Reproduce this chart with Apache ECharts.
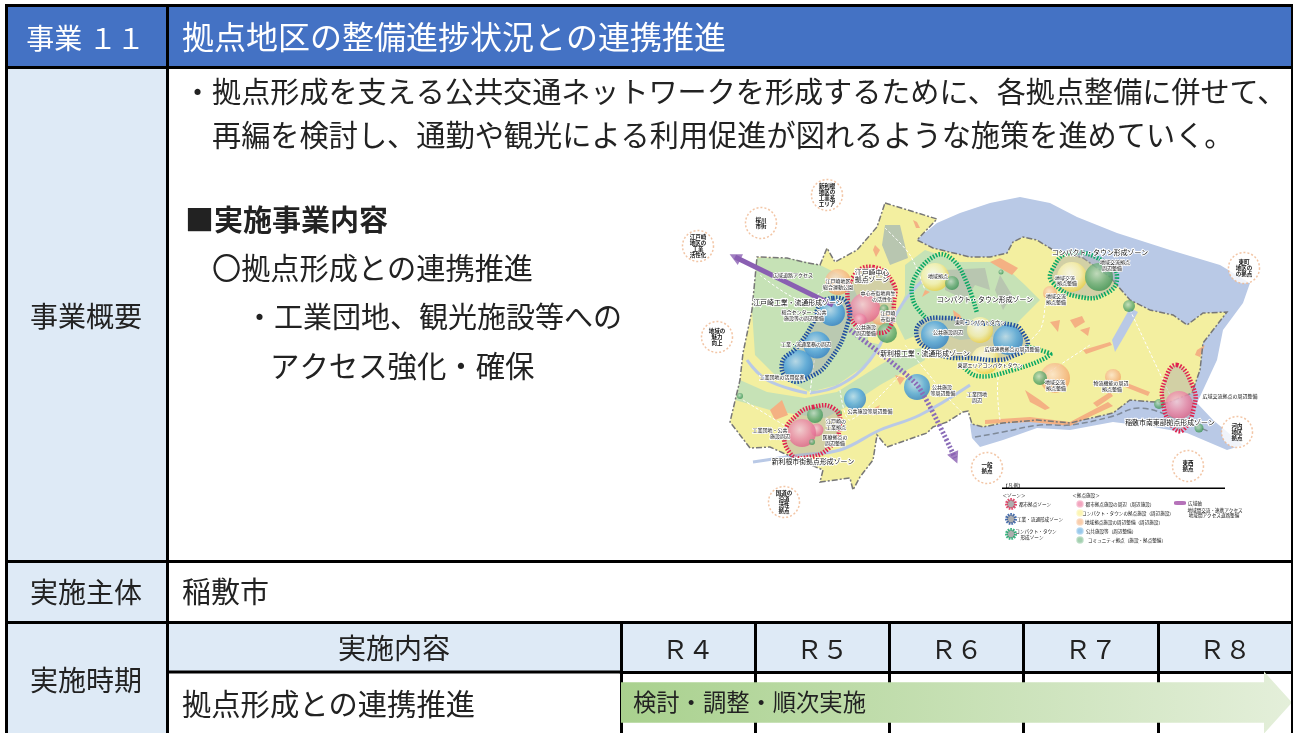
<!DOCTYPE html>
<html lang="ja">
<head>
<meta charset="utf-8">
<title>事業11</title>
<script src="https://cdn.jsdelivr.net/npm/echarts@6/dist/echarts.min.js"></script>
<style>
  html, body { margin: 0; padding: 0; background: #fff; }
  #chart-wrapper { width: 1293px; height: 733px; }
</style>
</head>
<body>
<div id="chart-wrapper"></div>
<script>
// table text
const projectLabel = '事業 １１'
const projectTitle = '拠点地区の整備進捗状況との連携推進'
const overviewLabel = '事業概要'
const ownerLabel = '実施主体'
const ownerName = '稲敷市'
const periodLabel = '実施時期'
const contentLabel = '実施内容'
const overviewLead = [
  '・拠点形成を支える公共交通ネットワークを形成するために、各拠点整備に併せて、',
  '再編を検討し、通勤や観光による利用促進が図れるような施策を進めていく。'
]
const detailHeading = '■実施事業内容'
const detailItem = '〇拠点形成との連携推進'
const detailSub = ['・工業団地、観光施設等への', 'アクセス強化・確保']

// schedule
const years = ['Ｒ４', 'Ｒ５', 'Ｒ６', 'Ｒ７', 'Ｒ８']
const tasks = ['拠点形成との連携推進']
const phaseLabels = ['検討・調整・順次実施']
const phaseStarts = ['Ｒ４']
const phaseEnds = ['Ｒ８']

// map areas
const lake = [[916,240],[937,223],[960,213],[990,203],[1020,197],[1050,203],[1077,217],[1117,233],[1170,250],[1220,265],[1250,283],[1243,303],[1223,330],[1217,360],[1197,403],[1213,420],[1243,445],[1227,450],[1187,433],[1153,427],[1113,422],[1070,430],[1037,428],[1003,440],[980,447],[972,438],[970,424],[1000,400],[1100,340],[1000,280]]
const land = [[885,203],[937,219],[917,240],[933,248],[970,257],[990,257],[1007,253],[1013,242],[1023,237],[1037,240],[1053,250],[1083,258],[1110,277],[1130,300],[1150,310],[1173,315],[1187,325],[1203,313],[1227,312],[1203,343],[1200,370],[1192,393],[1167,403],[1130,400],[1113,413],[1070,423],[1037,420],[1003,423],[983,427],[972,424],[968,411],[963,412],[947,422],[933,427],[927,433],[887,447],[877,435],[873,460],[860,477],[853,490],[850,478],[820,482],[823,470],[783,453],[770,447],[750,448],[730,422],[740,380],[743,353],[752,310],[757,257],[787,258],[803,262],[820,265],[827,248],[835,262],[857,250],[877,227]]
const inlet = [[1130,308],[1138,312],[1125,335],[1115,352],[1112,340]]
const greenWest = [[757,258],[787,258],[820,265],[850,280],[868,320],[868,342],[882,345],[870,362],[837,385],[810,392],[775,375],[755,355],[752,310]]
const greenSouth = [[740,380],[767,392],[805,398],[837,392],[880,365],[905,350],[922,348],[925,360],[880,385],[850,405],[825,418],[800,415],[770,410],[735,400]]
const greenCentre = [[905,265],[925,250],[960,262],[1000,262],[1025,285],[1040,300],[1020,320],[1010,335],[960,340],[930,330],[905,340],[895,320],[905,295]]
const grayNorth = [[885,225],[900,225],[908,258],[890,265],[882,245]]
const grayCentre = [[945,270],[985,268],[990,290],[975,285],[965,300],[945,290]]
const grayEast = [[1000,275],[1012,295],[1003,310],[995,290]]
const orangePatches = [
  [[1070,320],[1082,316],[1085,322],[1075,328]],
  [[1080,330],[1090,327],[1088,336]],
  [[1050,322],[1060,320],[1058,332]],
  [[1083,350],[1110,342],[1112,345],[1086,354]],
  [[985,420],[1030,417],[1070,422],[1108,402],[1113,406],[1070,426],[1030,422],[985,424]],
  [[1025,390],[1040,400],[1050,408],[1045,410],[1030,402]],
  [[1093,403],[1110,392],[1113,396],[1097,407]],
  [[1127,383],[1150,392],[1148,396],[1125,387]],
  [[875,245],[880,250],[876,257],[873,250]],
  [[913,220],[917,222],[920,228],[916,228]],
  [[925,290],[930,292],[922,297]],
  [[770,410],[782,400],[788,415],[775,420]],
  [[865,413],[880,405],[875,415]],
  [[953,310],[960,315],[965,325],[955,322]],
  [[990,262],[1000,258],[1018,268],[1012,275],[1000,268]],
  [[895,375],[905,378],[900,385]],
  [[1197,350],[1205,345],[1200,357],[1195,355]]
]

// zones
const redZones = [
  [[873,267],[893,283],[894,303],[890,327],[878,333],[857,327],[848,303],[853,277]],
  [[1177,365],[1193,387],[1194,407],[1183,430],[1173,427],[1163,403],[1165,380]],
  [[813,407],[833,408],[840,423],[830,447],[803,458],[790,453],[785,433],[797,415]]
]
const navyZones = [
  [[833,298],[847,303],[848,323],[830,360],[810,377],[790,380],[782,363],[797,347],[813,323],[820,305]],
  [[922,322],[947,318],[973,323],[1013,325],[1023,333],[1027,347],[1013,356],[998,360],[970,358],[947,357],[930,350],[917,337]]
]
const greenZones = [
  [[1052,270],[1070,253],[1107,263],[1117,277],[1107,293],[1080,297],[1053,283]]
]
const greenTraces = [
  [[925,317],[913,300],[915,277],[937,255],[953,260],[967,283],[977,313]],
  [[960,363],[977,376],[1013,370],[1050,355],[1040,350],[1027,347]]
]

// rivers, roads, boundary
const rivers = [
  [[753,462],[800,455],[840,450],[880,430],[920,415],[970,385]],
  [[810,393],[840,385],[870,360],[903,303],[923,280]],
  [[747,360],[767,380],[807,393]]
]
const roads = [
  [[885,228],[910,255],[925,290]],
  [[760,275],[800,300],[825,290]],
  [[1045,305],[1040,330],[1000,370],[1000,420]],
  [[1130,310],[1170,395]],
  [[1090,345],[1040,378]],
  [[905,345],[950,400],[970,420]],
  [[810,393],[815,355]],
  [[840,390],[850,420],[900,375]],
  [[743,400],[787,427]]
]
const waterBoundary = [[975,437],[1003,432],[1040,425],[1070,425],[1110,417],[1140,408],[1180,420],[1210,432]]

// arrows
const purpleSolid = [[833,305],[735,257]]
const purpleDashed = [[850,330],[917,385],[955,458]]

// facilities: x, y, diameter
const pinkBubbles = [[865,308,30],[860,320,13],[817,430,13],[802,433,28],[1179,405,28]]
const orangeBubbles = [[838,282,26],[880,315,20],[1050,293,14],[1055,378,30],[1113,377,16]]
const blueBubbles = [[832,313,26],[817,345,27],[798,365,30],[935,335,28],[1008,340,30],[917,387,26],[855,399,22]]
const yellowBubbles = [[935,277,28],[980,330,26],[985,360,28],[1072,277,30]]
const greenBubbles = [[884,309,9],[887,333,20],[952,283,14],[1040,378,14],[1099,277,28],[1129,306,12],[1159,404,10],[1199,428,9],[815,415,16],[812,442,6],[740,396,6],[839,413,6],[1001,272,5]]
const calloutSpots = [[827,195],[761,223],[698,246],[717,337],[1244,268],[1237,432],[1188,466],[987,468],[784,502]]

// small map text
const calloutTexts = ['新利根\n地区の\n工業系\nエリア', '桜川\n市街', '江戸崎\n地区の\n工業\n活性化', '地域の\n魅力\n向上', '東町\n地区の\nの拠点', '河内\n地区\n拠点', '東西\n拠点', '一般\n拠点', '国道の\n沿道\n活性\n拠点']
const zoneLabels = [
  [872, 272, '江戸崎中心'], [872, 279, '拠点ゾーン'],
  [798, 302, '江戸崎工業・流通形成ゾーン'],
  [985, 299, 'コンパクト・タウン形成ゾーン'],
  [1100, 252, 'コンパクト・タウン形成ゾーン'],
  [925, 353, '新利根工業・流通形成ゾーン'],
  [813, 461, '新利根市街拠点形成ゾーン'],
  [1170, 422, '稲敷市南東部拠点形成ゾーン']
]
const facilityLabels = [
  [793, 275, '広域道路アクセス'], [838, 281, '江戸崎地区'], [838, 287, '総合運動公園'],
  [804, 312, '総合センター・公共'], [804, 318, '施設等の周辺整備'], [806, 344, '工業・流通業務の周辺'],
  [782, 377, '工業団地の活用促進'], [878, 293, '中心市街地再生'], [882, 299, 'の活性化'],
  [888, 313, '江戸崎'], [888, 319, '市街地'], [866, 327, '公共施設'], [866, 333, '周辺整備'],
  [938, 276, '地域拠点'], [948, 332, '公共施設周辺'], [980, 322, '東町コンパクトタウン'],
  [1012, 349, '広域連携拠点の周辺整備'], [990, 365, '東部エリアコンパクトタウン'],
  [1065, 278, '地域交流'], [1067, 283, '拠点整備'], [1115, 262, '地域交流拠点'], [1112, 268, '周辺整備'],
  [1056, 296, '地域交流'], [1056, 302, '拠点整備'], [1055, 382, '地域交流'], [1056, 388, '拠点整備'],
  [1111, 383, '物流機能の周辺'], [1112, 389, '拠点整備'], [1230, 396, '広域交流拠点の周辺整備'],
  [836, 421, '江戸崎の'], [836, 427, '工業拠点'], [835, 437, '医療拠点の'], [835, 443, '周辺整備'],
  [770, 430, '工業団地・公共'], [780, 436, '施設周辺'], [870, 411, '公共施設等周辺整備'],
  [942, 387, '公共施設'], [943, 393, '等周辺整備'], [977, 394, '工業団地'], [977, 400, '周辺']
]
const legendMarkers = [[1011,504],[1011,519],[1011,534]]
const legendDots = [[1080,504],[1080,513],[1080,522],[1080,531],[1080,540]]
const legendLabels = [
  [1013, 485, '【凡 例】'], [1014, 495, '＜ゾーン＞'], [1086, 495, '＜拠点施設＞'],
  [1035, 504, '都市拠点ゾーン'], [1040, 519, '工業・流通形成ゾーン'], [1036, 531, 'コンパクト・タウン'], [1032, 537, '形成ゾーン'],
  [1120, 504, '都市拠点施設の周辺（周辺施設）'], [1128, 513, 'コンパクト・タウンの拠点施設（周辺施設）'], [1124, 522, '地域拠点施設の周辺整備（周辺施設）'],
  [1111, 531, '公共施設等（周辺整備）'], [1127, 540, 'コミュニティ拠点（施設・拠点整備）'],
  [1195, 503, '広域軸'], [1215, 510, '地域間交流・連携アクセス'], [1214, 515, '地域間アクセス道路整備']
]
const legendAxis = [[1180, 503]]

const FONT = '"Noto Sans CJK JP", "Noto Sans", sans-serif'
const BLACK = '#000'
const INK = '#222'
const HEADER_BLUE = '#4472c4'
const CELL_BLUE = '#deeaf6'

const ring = (points) => {
  const out = points.map(p => [p[0], -p[1]])
  out.push(out[0])
  return [out]
}

const feature = (name, points) => ({
  type: 'Feature',
  properties: { name },
  geometry: { type: 'Polygon', coordinates: ring(points) }
})

const patchNames = orangePatches.map((_, i) => `orange${i}`)

const mapFeatures = [
  feature('lake', lake),
  feature('land', land),
  feature('inlet', inlet),
  feature('greenWest', greenWest),
  feature('greenSouth', greenSouth),
  feature('greenCentre', greenCentre),
  feature('grayNorth', grayNorth),
  feature('grayCentre', grayCentre),
  feature('grayEast', grayEast),
  ...orangePatches.map((p, i) => feature(patchNames[i], p))
]

const regionColor = (name, color) => ({ name, itemStyle: { areaColor: color }, silent: true })

const bubbleFill = (inner, mid, outer) => new echarts.graphic.RadialGradient(0.42, 0.38, 0.62, [
  { offset: 0, color: inner },
  { offset: 0.6, color: mid },
  { offset: 1, color: outer }
])

const bubbleSeries = (data, inner, mid, outer) => ({
  type: 'scatter',
  coordinateSystem: 'geo',
  z: 5,
  silent: true,
  symbol: 'circle',
  symbolSize: v => v[2],
  itemStyle: { color: bubbleFill(inner, mid, outer) },
  data: data.map(d => [d[0], -d[1], d[2]])
})

// smooth outlines on the map, as one custom series per style
const outlineSeries = (outlines, style, smooth, closed, z) => ({
  type: 'custom',
  coordinateSystem: 'geo',
  silent: true,
  z,
  data: outlines.map(o => [o[0][0], -o[0][1]]),
  renderItem: (params, api) => ({
    type: closed ? 'polygon' : 'polyline',
    shape: {
      points: outlines[params.dataIndex].map(p => api.coord([p[0], -p[1]])),
      smooth
    },
    style
  })
})

const textSeries = (labels, fontSize, extra, z) => ({
  type: 'custom',
  coordinateSystem: 'geo',
  silent: true,
  z,
  data: labels.map(l => [l[0], -l[1]]),
  renderItem: (params, api) => {
    const at = api.coord([api.value(0), api.value(1)])
    return {
      type: 'text',
      x: at[0],
      y: at[1],
      style: Object.assign({
        text: labels[params.dataIndex][2],
        fontFamily: FONT,
        fontSize,
        fill: '#111',
        align: 'center',
        verticalAlign: 'middle'
      }, extra)
    }
  }
})

const rect = (x, y, w, h, fill, z) => ({ type: 'rect', z, silent: true, shape: { x, y, width: w, height: h }, style: { fill } })

const label = (x, y, text, fontSize, opts) => ({
  type: 'text',
  z: 30,
  silent: true,
  x,
  y,
  style: Object.assign({
    text,
    fontFamily: FONT,
    fontSize,
    fill: INK,
    align: 'left',
    verticalAlign: 'middle'
  }, opts)
})

const centered = { align: 'center' }

const tableGraphics = [
  rect(5, 4, 1288, 64, HEADER_BLUE, -20),
  rect(5, 68, 162, 665, CELL_BLUE, -20),
  rect(167, 623, 1126, 49, CELL_BLUE, -20),
  rect(5, 4, 3, 729, BLACK, 20),
  rect(5, 4, 1288, 3, BLACK, 20),
  rect(1291, 4, 2, 729, BLACK, 20),
  rect(166, 4, 3, 729, BLACK, 20),
  rect(5, 66, 1288, 3, BLACK, 20),
  rect(5, 560, 1288, 3, BLACK, 20),
  rect(5, 621, 1288, 3, BLACK, 20),
  rect(167, 670.5, 454, 3, BLACK, 20),
  rect(1002, 487.5, 223, 1.5, BLACK, 20),
  label(85.5, 38, projectLabel, 28, { fill: '#fff', align: 'center' }),
  label(182, 37, projectTitle, 32, { fill: '#fff' }),
  label(86, 316, overviewLabel, 28, centered),
  label(86, 592, ownerLabel, 28, centered),
  label(86, 680, periodLabel, 28, centered),
  label(182, 592, ownerName, 29),
  label(394, 648, contentLabel, 28, centered),
  label(182, 704, tasks[0], 29.3),
  label(183, 92, overviewLead[0], 29.1),
  label(212, 135, overviewLead[1], 29.2),
  label(185, 220, detailHeading, 29, { fontWeight: 'bold' }),
  label(212, 268, detailItem, 29.2),
  label(245, 317, detailSub[0], 29),
  label(270, 366, detailSub[1], 29.4)
]

const renderPhase = (params, api) => {
  const band = api.size([1, 0])[0]
  const rowHeight = api.size([0, 1])[1]
  const from = api.coord([api.value(0), 0])
  const to = api.coord([api.value(1), 0])
  const left = from[0] - band / 2
  const right = to[0] + band / 2
  const mid = from[1]
  const half = rowHeight * 0.33
  const headHalf = rowHeight * 0.51
  const neck = right - 28
  return {
    type: 'group',
    children: [
      {
        type: 'polygon',
        shape: {
          points: [
            [left, mid - half], [neck, mid - half], [neck, mid - headHalf], [right, mid],
            [neck, mid + headHalf], [neck, mid + half], [left, mid + half]
          ]
        },
        style: {
          fill: new echarts.graphic.LinearGradient(0, 0, 1, 0, [
            { offset: 0, color: '#a9d18e' },
            { offset: 1, color: '#e4efda' }
          ])
        }
      },
      {
        type: 'text',
        x: left + 12,
        y: mid,
        style: {
          text: phaseLabels[params.dataIndex],
          fontFamily: FONT,
          fontSize: 23.3,
          fill: INK,
          verticalAlign: 'middle'
        }
      }
    ]
  }
}

const init_handler = () => {
  const chartDom = document.getElementById('chart-wrapper')
  const chart = echarts.init(chartDom, null, { renderer: 'canvas' })

  echarts.registerMap('inashiki', { type: 'FeatureCollection', features: mapFeatures })

  const option = {
    animation: false,
    backgroundColor: '#fff',
    textStyle: { fontFamily: FONT },
    graphic: { elements: tableGraphics },
    grid: { left: 621, top: 672, width: 671, height: 61 },
    xAxis: {
      type: 'category',
      position: 'top',
      data: years,
      boundaryGap: true,
      axisLine: { show: true, lineStyle: { color: BLACK, width: 3 } },
      axisTick: { show: true, length: 50, inside: false, lineStyle: { color: BLACK, width: 3 } },
      axisLabel: { show: true, margin: 10, fontSize: 26, fontFamily: FONT, color: INK, interval: 0 },
      splitLine: { show: true, interval: 0, lineStyle: { color: BLACK, width: 3 } }
    },
    yAxis: {
      type: 'category',
      data: tasks,
      show: false
    },
    geo: {
      map: 'inashiki',
      roam: false,
      silent: true,
      aspectScale: 1,
      boundingCoords: [[670, -170], [1270, -555]],
      left: 670,
      top: 170,
      width: 600,
      height: 385,
      label: { show: false },
      itemStyle: { areaColor: '#f3efa0', borderWidth: 0, borderColor: 'transparent' },
      regions: [
        regionColor('lake', '#b9c9e6'),
        regionColor('land', '#f3efa0'),
        regionColor('inlet', '#b9c9e6'),
        regionColor('greenWest', '#c6e2b6'),
        regionColor('greenSouth', '#c6e2b6'),
        regionColor('greenCentre', '#c6e2b6'),
        regionColor('grayNorth', '#b8c6b0'),
        regionColor('grayCentre', '#b8c6b0'),
        regionColor('grayEast', '#b8c6b0'),
        ...patchNames.map(n => regionColor(n, '#f4b183'))
      ]
    },
    series: [
      {
        type: 'custom',
        name: 'schedule',
        coordinateSystem: 'cartesian2d',
        clip: false,
        z: 4,
        encode: { x: [0, 1], y: 2 },
        data: phaseLabels.map((_, i) => [years.indexOf(phaseStarts[i]), years.indexOf(phaseEnds[i]), 0]),
        renderItem: renderPhase
      },
      outlineSeries(rivers, { stroke: '#b9c9e6', lineWidth: 3, fill: 'none' }, 0.4, false, 2),
      outlineSeries(roads, { stroke: '#fff', lineWidth: 1, lineDash: [3, 2], fill: 'none' }, 0.3, false, 2),
      outlineSeries([land], { stroke: '#777', lineWidth: 1.5, lineDash: [6, 2, 2, 2], fill: 'none' }, 0, true, 2),
      outlineSeries([waterBoundary], { stroke: '#7f8a99', lineWidth: 1.5, lineDash: [6, 3], fill: 'none' }, 0.4, false, 2),
      outlineSeries(navyZones.concat(redZones, greenZones), { fill: 'rgba(170,170,170,0.45)' }, 0.5, true, 3),
      bubbleSeries(orangeBubbles, '#fde4cf', '#f6bd90', '#f2a365'),
      bubbleSeries(blueBubbles, '#b6dcf2', '#4fa6e0', '#2f82c8'),
      bubbleSeries(yellowBubbles, '#fffef2', '#f9f2ae', '#ecd24c'),
      bubbleSeries(pinkBubbles, '#f8ccd8', '#ee8aa8', '#e0668c'),
      bubbleSeries(greenBubbles, '#bcdcc0', '#68ae78', '#3d9456'),
      outlineSeries(redZones, { stroke: '#e0224e', lineWidth: 4.5, lineDash: [1.5, 1.5], fill: 'none' }, 0.5, true, 6),
      outlineSeries(navyZones, { stroke: '#1f4f9e', lineWidth: 4.5, lineDash: [1.5, 1.5], fill: 'none' }, 0.5, true, 6),
      outlineSeries(greenZones, { stroke: '#0aa864', lineWidth: 4.5, lineDash: [1.5, 1.5], fill: 'none' }, 0.5, true, 6),
      outlineSeries(greenTraces, { stroke: '#0aa864', lineWidth: 4.5, lineDash: [1.5, 1.5], fill: 'none' }, 0.4, false, 6),
      outlineSeries([purpleSolid], { stroke: '#8a5fb2', lineWidth: 5, fill: 'none' }, 0, false, 6),
      outlineSeries([purpleDashed], { stroke: '#8a6cb8', lineWidth: 5, lineDash: [2, 2], fill: 'none' }, 0.2, false, 6),
      {
        type: 'scatter',
        coordinateSystem: 'geo',
        silent: true,
        z: 6,
        symbol: 'triangle',
        symbolSize: 12,
        itemStyle: { color: '#8a5fb2' },
        data: [
          { value: [purpleSolid[1][0], -purpleSolid[1][1]], symbolRotate: 64 },
          { value: [purpleDashed[2][0], -purpleDashed[2][1]], symbolRotate: 203 }
        ]
      },
      {
        type: 'scatter',
        coordinateSystem: 'geo',
        silent: true,
        z: 3,
        symbol: 'circle',
        symbolSize: 31,
        itemStyle: { color: '#fff', borderColor: '#efb78e', borderWidth: 1.5, borderType: [2, 2] },
        data: calloutSpots.map(c => [c[0], -c[1]])
      },
      textSeries(calloutSpots.map((c, i) => [c[0], c[1], calloutTexts[i]]), 5.5, { fontWeight: 'bold', lineHeight: 6 }, 7),
      textSeries(zoneLabels, 6.9, { stroke: '#fff', lineWidth: 2 }, 8),
      textSeries(facilityLabels, 5, { stroke: '#fff', lineWidth: 1.5 }, 8),
      {
        type: 'scatter',
        coordinateSystem: 'geo',
        silent: true,
        z: 7,
        symbolSize: 9,
        itemStyle: { color: '#9a9a9a', borderWidth: 3, borderType: [1.5, 1] },
        data: legendMarkers.map((m, i) => ({
          value: [m[0], -m[1]],
          itemStyle: { borderColor: ['#e0224e', '#1f4f9e', '#0aa864'][i] }
        }))
      },
      {
        type: 'scatter',
        coordinateSystem: 'geo',
        silent: true,
        z: 7,
        symbolSize: 6,
        itemStyle: { borderWidth: 1.5 },
        data: legendDots.map((m, i) => ({
          value: [m[0], -m[1]],
          itemStyle: {
            color: ['#ef8fae', '#fbf3a0', '#f7c197', '#7fbce6', '#8cc49b'][i],
            borderColor: ['#f5b9cd', '#fdf8c6', '#fad7bb', '#aed5f0', '#b5dac0'][i]
          }
        }))
      },
      {
        type: 'scatter',
        coordinateSystem: 'geo',
        silent: true,
        z: 7,
        symbol: 'roundRect',
        symbolSize: [12, 4],
        itemStyle: { color: '#a34fa8' },
        data: legendAxis.map(m => [m[0], -m[1]])
      },
      textSeries(legendLabels, 4.6, {}, 7)
    ]
  }

  chart.setOption(option, { notMerge: true, lazyUpdate: false })
}

init_handler()
</script>
</body>
</html>
